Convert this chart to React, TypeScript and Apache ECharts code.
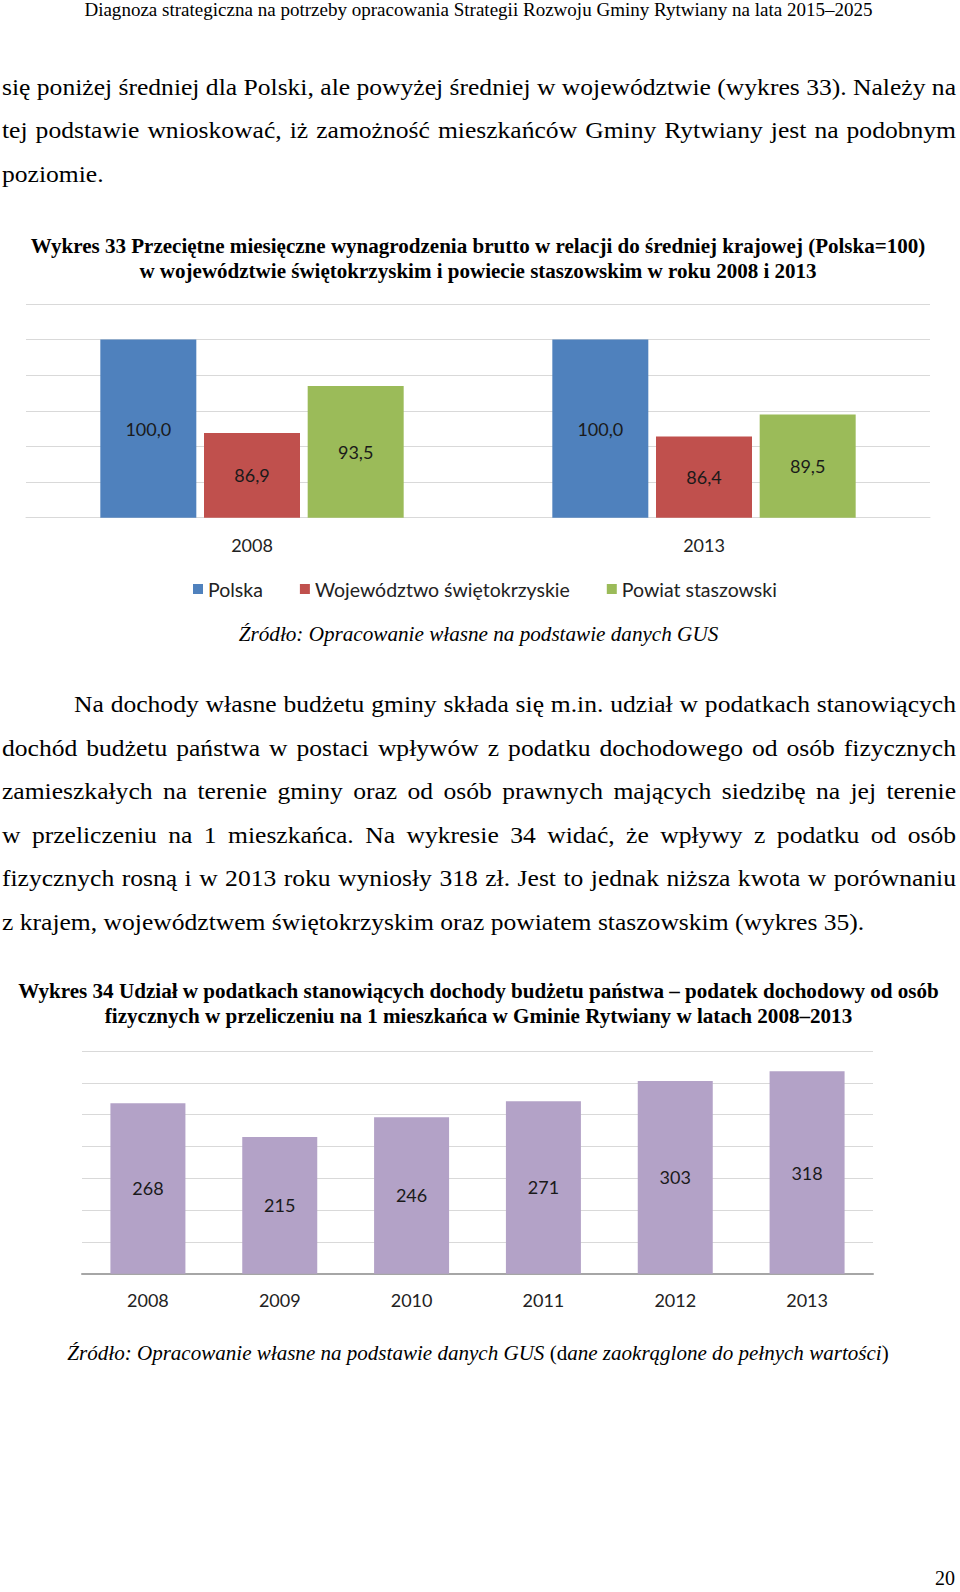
import React, { useEffect, useRef } from 'react';
import * as echarts from 'echarts';

// ---------- data ----------
const wageCategories = ['2008', '2013'];
const wageSeriesNames = ['Polska', 'Województwo świętokrzyskie', 'Powiat staszowski'];
const wagePolska = [100.0, 100.0];
const wageWojewodztwo = [86.9, 86.4];
const wagePowiat = [93.5, 89.5];
const wageAxisMin = 75;
const wageAxisMax = 105;
const wageAxisInterval = 5;

const taxYears = ['2008', '2009', '2010', '2011', '2012', '2013'];
const taxValues = [268, 215, 246, 271, 303, 318];
const taxAxisMin = 0;
const taxAxisMax = 350;
const taxAxisInterval = 50;

// ---------- text ----------
const headerText = 'Diagnoza strategiczna na potrzeby opracowania Strategii Rozwoju Gminy Rytwiany na lata 2015–2025';
const para1 = [
  'się poniżej średniej dla Polski, ale powyżej średniej w województwie (wykres 33). Należy na',
  'tej podstawie wnioskować, iż zamożność mieszkańców Gminy Rytwiany jest na podobnym',
  'poziomie.',
];
const title1 = [
  'Wykres 33 Przeciętne miesięczne wynagrodzenia brutto w relacji do średniej krajowej (Polska=100)',
  'w województwie świętokrzyskim i powiecie staszowskim w roku 2008 i 2013',
];
const source1 = 'Źródło: Opracowanie własne na podstawie danych GUS';
const para2 = [
  'Na dochody własne budżetu gminy składa się m.in. udział w podatkach stanowiących',
  'dochód budżetu państwa w postaci wpływów z podatku dochodowego od osób fizycznych',
  'zamieszkałych na terenie gminy oraz od osób prawnych mających siedzibę na jej terenie',
  'w przeliczeniu na 1 mieszkańca. Na wykresie 34 widać, że wpływy z podatku od osób',
  'fizycznych rosną i w 2013 roku wyniosły 318 zł. Jest to jednak niższa kwota w porównaniu',
  'z krajem, województwem świętokrzyskim oraz powiatem staszowskim (wykres 35).',
];
const title2 = [
  'Wykres 34 Udział w podatkach stanowiących dochody budżetu państwa – podatek dochodowy od osób',
  'fizycznych w przeliczeniu na 1 mieszkańca w Gminie Rytwiany w latach 2008–2013',
];
const source2Italic1 = 'Źródło: Opracowanie własne na podstawie danych GUS ';
const source2Normal1 = '(d';
const source2Italic2 = 'ane zaokrąglone do pełnych wartości';
const source2Normal2 = ')';
const pageNumber = '20';

const SERIF = '"Liberation Serif", "Times New Roman", serif';
const SANS = 'Lato, "Liberation Sans", sans-serif';

let measureCtx: CanvasRenderingContext2D | null = null;
function measure(text: string, size: number, weight = 'normal', style = 'normal', family = SERIF) {
  if (!measureCtx) measureCtx = document.createElement('canvas').getContext('2d');
  measureCtx!.font = `${style} ${weight} ${size}px ${family}`;
  return measureCtx!.measureText(text).width;
}

function textEl(text: string, x: number, y: number, size: number, align: string, weight = 'normal', style = 'normal', sx = 1) {
  return {
    type: 'text',
    silent: true,
    x,
    y,
    scaleX: sx,
    style: {
      text,
      fontSize: size,
      fontFamily: SERIF,
      fontWeight: weight,
      fontStyle: style,
      fill: '#000',
      textAlign: align,
      textVerticalAlign: 'middle',
      align,
      verticalAlign: 'middle',
    },
  };
}

function justified(text: string, x0: number, x1: number, y: number, size: number, sx: number) {
  const words = text.split(' ');
  const widths = words.map((w) => measure(w, size) * sx);
  const sum = widths.reduce((a, b) => a + b, 0);
  const total = x1 - x0;
  const gap = words.length > 1 ? (total - sum) / (words.length - 1) : 0;
  let x = x0;
  return words.map((w, i) => {
    const el = textEl(w, x, y, size, 'left', 'normal', 'normal', sx);
    x += widths[i] + gap;
    return el;
  });
}

function fitSize(text: string, target: number, base: number, weight = 'normal', style = 'normal') {
  return base * target / measure(text, base, weight, style);
}

function buildGraphics() {
  const els: any[] = [];
  const PS = 24;
  const lines: [string, number][] = [
    [para1[0], 954],
    [para1[1], 954],
    [para2[0], 882],
    [para2[1], 954],
    [para2[2], 954],
    [para2[3], 954],
    [para2[4], 954],
  ];
  let sx = 10;
  lines.forEach(([t, w]) => {
    sx = Math.min(sx, w / measure(t, PS));
  });
  sx = Math.max(0.9, Math.min(1.2, sx));

  // header
  const hsx = Math.max(0.9, Math.min(1.25, 789 / measure(headerText, 18)));
  els.push(textEl(headerText, 478.5, 10, 18, 'center', 'normal', 'normal', hsx));
  // paragraph 1
  els.push(...justified(para1[0], 2, 956, 86.4, PS, sx));
  els.push(...justified(para1[1], 2, 956, 130, PS, sx));
  els.push(textEl(para1[2], 2, 173.5, PS, 'left', 'normal', 'normal', sx));
  // title 1
  const t1 = fitSize(title1[0], 895, 20, 'bold');
  els.push(textEl(title1[0], 478, 246, t1, 'center', 'bold'));
  els.push(textEl(title1[1], 478, 270.5, t1, 'center', 'bold'));
  // source 1
  const s1 = fitSize(source1, 480, 19, 'normal', 'italic');
  els.push(textEl(source1, 478.5, 634, s1, 'center', 'normal', 'italic'));
  // paragraph 2
  const ys = [704, 747.6, 791.2, 834.5, 878, 921.5];
  els.push(...justified(para2[0], 74, 956, ys[0], PS, sx));
  for (let i = 1; i < 5; i++) els.push(...justified(para2[i], 2, 956, ys[i], PS, sx));
  els.push(textEl(para2[5], 2, ys[5], PS, 'left', 'normal', 'normal', sx));
  // title 2
  const t2 = fitSize(title2[0], 921, 20, 'bold');
  els.push(textEl(title2[0], 478.5, 991, t2, 'center', 'bold'));
  els.push(textEl(title2[1], 478.5, 1015.5, t2, 'center', 'bold'));
  // source 2 (rich)
  const base = 19;
  const w2 =
    measure(source2Italic1, base, 'normal', 'italic') +
    measure(source2Normal1, base) +
    measure(source2Italic2, base, 'normal', 'italic') +
    measure(source2Normal2, base);
  const s2 = base * 822 / w2;
  els.push({
    type: 'text',
    silent: true,
    x: 478,
    y: 1353,
    style: {
      text: `{i|${source2Italic1}}{n|${source2Normal1}}{i|${source2Italic2}}{n|${source2Normal2}}`,
      textAlign: 'center',
      textVerticalAlign: 'middle',
      align: 'center',
      verticalAlign: 'middle',
      fill: '#000',
      rich: {
        i: { fontSize: s2, fontFamily: SERIF, fontStyle: 'italic', fill: '#000' },
        n: { fontSize: s2, fontFamily: SERIF, fontStyle: 'normal', fill: '#000' },
      },
    },
  });
  // page number
  els.push(textEl(pageNumber, 955, 1578, 20, 'right'));
  return els;
}

export default function App() {
  const ref = useRef<HTMLDivElement>(null);
  useEffect(() => {
    if (!ref.current) return;
    const chart = echarts.init(ref.current, undefined, { renderer: 'svg' });
    const labelColor = '#1a1a1a';
    const wageLabel = {
      show: true,
      position: 'inside',
      fontSize: 18,
      fontFamily: SANS,
      color: labelColor,
      formatter: (p: any) => Number(p.value).toFixed(1).replace('.', ','),
    };
    const option: any = {
      animation: false,
      backgroundColor: '#ffffff',
      textStyle: { fontFamily: SANS },
      legend: {
        data: wageSeriesNames,
        left: 193,
        top: 579,
        padding: 0,
        icon: 'rect',
        itemWidth: 10,
        itemHeight: 10,
        itemGap: 37,
        selectedMode: false,
        textStyle: { fontSize: 19.5, color: '#222', fontFamily: SANS },
      },
      grid: [
        { left: 26, right: 30, top: 304, height: 213.7 },
        { left: 82, right: 87, top: 1051, height: 222.7 },
      ],
      xAxis: [
        {
          type: 'category',
          gridIndex: 0,
          data: wageCategories,
          axisTick: { show: false },
          axisLine: { lineStyle: { color: '#d9d9d9', width: 1 } },
          axisLabel: { fontSize: 18, color: '#222', margin: 18, fontFamily: SANS },
        },
        {
          type: 'category',
          gridIndex: 1,
          data: taxYears,
          axisTick: { show: false },
          axisLine: { lineStyle: { color: '#a6a6a6', width: 2 } },
          axisLabel: { fontSize: 18, color: '#222', margin: 17, fontFamily: SANS },
        },
      ],
      yAxis: [
        {
          type: 'value',
          gridIndex: 0,
          min: wageAxisMin,
          max: wageAxisMax,
          interval: wageAxisInterval,
          axisLabel: { show: false },
          axisLine: { show: false },
          axisTick: { show: false },
          splitLine: { lineStyle: { color: '#d9d9d9', width: 1 } },
        },
        {
          type: 'value',
          gridIndex: 1,
          min: taxAxisMin,
          max: taxAxisMax,
          interval: taxAxisInterval,
          axisLabel: { show: false },
          axisLine: { show: false },
          axisTick: { show: false },
          splitLine: { lineStyle: { color: '#d9d9d9', width: 1 } },
        },
      ],
      series: [
        {
          name: wageSeriesNames[0],
          type: 'bar',
          xAxisIndex: 0,
          yAxisIndex: 0,
          data: wagePolska,
          barWidth: 96,
          barGap: '8%',
          itemStyle: { color: '#4F81BD' },
          label: wageLabel,
        },
        {
          name: wageSeriesNames[1],
          type: 'bar',
          xAxisIndex: 0,
          yAxisIndex: 0,
          data: wageWojewodztwo,
          barWidth: 96,
          barGap: '8%',
          itemStyle: { color: '#C0504D' },
          label: wageLabel,
        },
        {
          name: wageSeriesNames[2],
          type: 'bar',
          xAxisIndex: 0,
          yAxisIndex: 0,
          data: wagePowiat,
          barWidth: 96,
          barGap: '8%',
          itemStyle: { color: '#9BBB59' },
          label: wageLabel,
        },
        {
          name: 'Podatek dochodowy',
          type: 'bar',
          xAxisIndex: 1,
          yAxisIndex: 1,
          data: taxValues,
          barWidth: 75,
          itemStyle: { color: '#B3A2C7' },
          label: {
            show: true,
            position: 'inside',
            fontSize: 18,
            fontFamily: SANS,
            color: labelColor,
          },
        },
      ],
      graphic: buildGraphics(),
    };
    chart.setOption(option);
    return () => chart.dispose();
  }, []);
  return (
    <div
      ref={ref}
      style={{ position: 'absolute', left: 0, top: 0, width: 960, height: 1592, background: '#fff' }}
    />
  );
}
